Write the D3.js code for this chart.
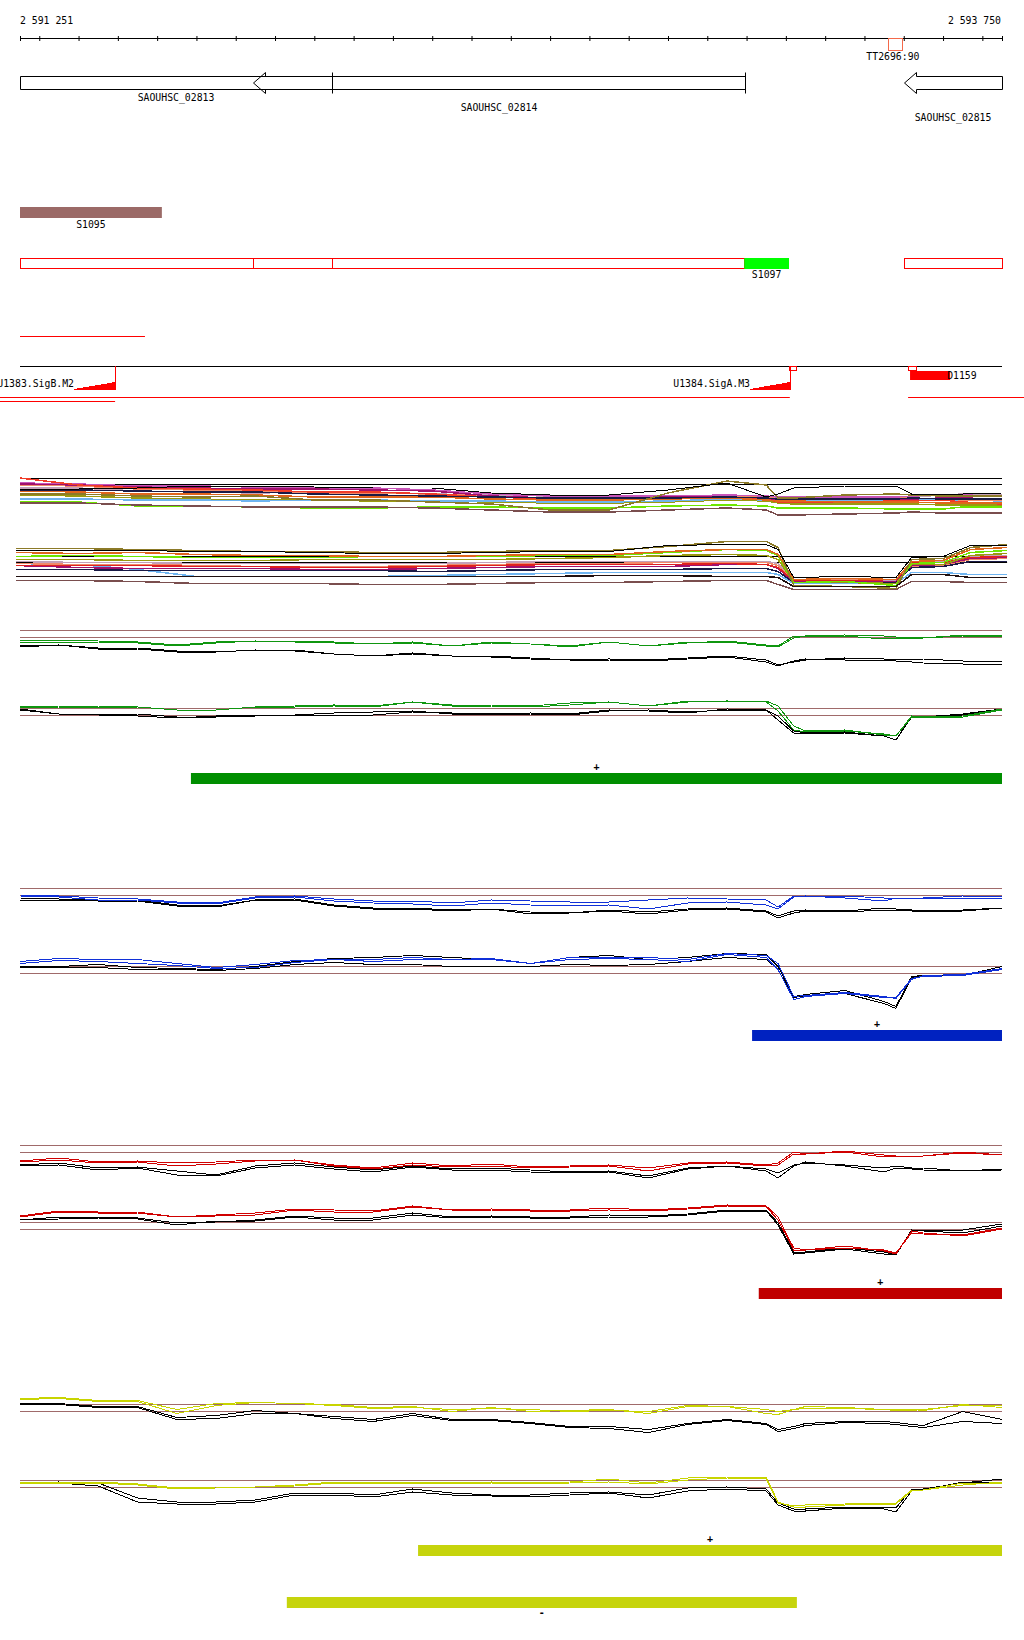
<!DOCTYPE html>
<html>
<head>
<meta charset="utf-8">
<script src="https://cdn.jsdelivr.net/npm/d3@7"></script>
<style>
body { margin: 0; background: #fff; }
svg text { font-family: "DejaVu Sans Mono", monospace; font-size: 9.8px; fill: #000; }
</style>
</head>
<body>
<div id="chart"></div>
<script>
// genomic window
const viewStart = 2591251, viewEnd = 2593750;

// annotation tracks
const genes = [
	{name: "SAOUHSC_02813", start: 2590950, end: 2592045, strand: "-"},
	{name: "SAOUHSC_02814", start: 2591844, end: 2593096, strand: "-"},
	{name: "SAOUHSC_02815", start: 2593501, end: 2594100, strand: "-"}
];
const terminators = [{name: "TT2696:90", start: 2593460, end: 2593495}];
const sFeature = {name: "S1095", start: 2591100, end: 2591612};
const tuSegments = [[2591251, 2591844], [2591844, 2592045], [2592045, 2593094], [2593501, 2593750]];
const s1097 = {name: "S1097", start: 2593094, end: 2593208};
const shortTu = [2591251, 2591569];
const promoters = [
	{name: "U1383.SigB.M2", start: 2591388, end: 2591493, box: null},
	{name: "U1384.SigA.M3", start: 2593109, end: 2593210, box: [2593207, 2593226]}
];
const dFeature = {name: "D1159", start: 2593516, end: 2593618, box: [2593511, 2593532]};
const promLines1 = [[2591200, 2593210], [2593511, 2593806]];
const promLines2 = [[2591200, 2591493]];

// positions of the expression profiles
const posFine = [2591251,2591350,2591450,2591550,2591650,2591750,2591850,2591950,2592050,2592150,2592250,2592350,2592450,2592550,2592650,2592750,2592850,2592950,2593050,2593150,2593180,2593220,2593250,2593350,2593450,2593480,2593520,2593550,2593650,2593750];
const posCoarse = [2591251,2591400,2591550,2591700,2591850,2592000,2592150,2592300,2592450,2592600,2592750,2592900,2593050,2593150,2593180,2593220,2593350,2593480,2593520,2593600,2593650,2593750];
const posCoarse2 = [2591241,2591400,2591550,2591700,2591850,2592000,2592150,2592300,2592450,2592600,2592750,2592900,2593050,2593150,2593180,2593220,2593350,2593480,2593520,2593600,2593670,2593763];

// all-conditions profiles, upper group
const m1Black = [89,89,90,92,92,91,90,90,85,83,83,88,95,81,84,90,92,92,84,84,84,85];
const m1Olive = [84,84,82,81,82,78,78,76,74,68,68,85,97,93,80,80,83,84,83,82,82,82];
const m1Orange = [87,86,84,84,83,81,81,81,79,78,78,79,80,78,77,77,76,76,76,75,75,75];
const m1Red = [100,93,90,89,88,86,86,84,81,79,79,80,81,79,76,76,76,77,77,78,76,74];
const m1Purple = [94,93,91,90,89,89,88,87,82,80,80,81,81,80,78,78,79,79,79,80,80,79];
const m1Pink = [95,94,92,92,91,90,90,88,84,82,82,82,83,82,81,81,81,81,82,83,83,82];
const m1GreyPink = [90,90,87,86,85,86,85,84,83,82,81,82,82,81,80,80,81,81,81,83,84,83];
const m1LightGreen = [76,76,72,72,71,70,70,71,71,70,70,72,73,72,70,70,70,69,69,69,71,71];
const m1OliveGreen = [83,82,80,79,78,78,77,77,76,75,75,76,78,77,75,74,74,74,74,73,73,73];
const m1LightBlue = [79,79,78,78,77,78,78,77,77,76,76,77,79,78,77,77,78,78,78,78,78,77];
const m1BrownGrey = [75,75,73,72,71,71,71,70,68,66,66,68,70,68,63,63,64,65,66,65,65,65];
const m1Navy = [88,88,87,86,86,84,83,82,81,80,80,80,81,80,79,79,79,79,80,79,79,79];
const m1Salmon = [93,92,89,88,87,85,85,84,82,80,80,81,81,81,79,79,79,80,80,79,78,78];

// all-conditions profiles, lower group
const m2Olive = [107,107,106,105,104,104,103,103,104,105,105,109,114,114,108,70,69,67,96,97,108,111];
const m2Black = [105,105,105,104,104,103,102,102,103,104,104,110,111,111,106,78,79,78,98,99,110,110];
const m2Orange = [103,102,103,101,100,100,99,99,100,101,101,104,106,106,101,76,77,76,94,95,106,108];
const m2LightGreen = [99,100,99,98,98,98,99,99,99,100,100,103,106,105,100,73,74,70,92,93,103,105];
const m2OliveGreen = [96,96,95,95,95,96,96,96,96,97,98,100,101,100,96,73,73,72,91,91,100,102];
const m2Red = [90,90,90,89,89,88,88,89,90,91,91,91,92,91,88,75,75,76,93,93,98,99];
const m2Purple = [90,88,87,87,87,86,86,87,88,89,89,89,91,91,87,74,74,74,90,91,97,98];
const m2Salmon = [92,91,91,90,89,89,89,90,91,92,92,93,93,93,90,75,76,76,89,90,96,97];
const m2GreyPink = [94,93,93,92,92,92,92,92,93,94,94,94,94,94,92,76,76,75,94,94,99,100];
const m2LightBlue = [90,91,86,79,79,79,79,80,81,82,83,83,83,83,81,72,72,72,83,83,81,81];
const m2BlackBottom = [79,79,79,79,79,79,79,79,79,79,80,80,79,79,78,69,69,69,81,81,78,78];
const m2BrownGrey = [75,75,74,72,72,72,71,71,72,73,73,74,75,75,71,66,66,66,74,74,73,73];
const m2Navy = [86,86,85,85,85,85,85,84,85,86,86,86,87,87,84,73,73,73,88,89,94,94];
const multiThresholds1 = [100, 94];
const multiThresholds2 = [100, 93.5];

// condition panels
const greenUpG1 = [90,90,89,88,85,88,89,89,88,86,88,84,87,86,83,88,84,87,89,85,84,94,94,95,94,93,93,92,95,95];
const greenUpG2 = [88,88,88,87,84,87,89,88,87,86,87,84,88,86,84,88,84,88,88,84,83,92,94,94,91,92,92,92,94,94];
const greenUpK1 = [84,85,82,82,79,78,80,80,76,74,76,74,74,72,70,71,70,72,74,70,65,68,70,72,71,71,71,71,69,69];
const greenUpK2 = [83,85,81,81,78,78,80,79,76,74,77,74,73,71,70,70,69,71,73,68,64,69,71,70,70,69,68,67,66,65];
const greenLoG1 = [101,102,102,101,98,98,101,102,103,102,106,103,103,102,105,106,102,107,107,107,102,82,77,78,73,72,92,91,92,99];
const greenLoG2 = [100,101,101,101,98,98,101,101,102,101,106,102,102,101,103,106,102,106,107,106,97,78,76,77,74,72,91,91,91,98];
const greenLoK1 = [99,94,94,94,91,91,92,93,93,93,96,95,94,94,93,97,98,96,98,98,92,77,75,76,72,68,92,91,93,99];
const greenLoK2 = [98,94,93,92,90,92,93,93,95,96,97,94,94,95,94,98,97,95,99,98,88,75,74,75,72,68,91,91,94,99];

const blueUpB1 = [93,92,90,89,86,85,91,92,89,87,87,85,88,87,86,86,88,90,89,88,81,92,92,92,90,89,90,90,92,91];
const blueUpB2 = [92,91,88,88,85,84,90,91,87,85,84,82,85,83,82,83,79,85,86,83,79,91,92,90,87,90,90,90,90,89];
const blueUpK1 = [90,89,88,88,83,82,88,89,83,80,80,78,79,76,75,78,76,79,80,77,72,77,78,77,80,79,78,78,78,80];
const blueUpK2 = [88,88,87,87,82,81,88,88,82,79,79,77,79,74,75,77,74,78,79,76,70,75,77,76,78,78,77,76,77,80];
const blueLoB1 = [104,107,106,106,102,98,101,105,106,106,108,106,107,102,108,108,108,106,112,110,102,69,70,73,69,67,86,90,91,97];
const blueLoB2 = [102,105,104,102,100,97,98,103,106,104,106,106,106,102,106,107,106,104,111,108,96,66,69,72,68,68,87,89,90,96];
const blueLoK1 = [99,99,101,98,97,96,99,104,107,108,110,108,106,102,108,110,106,108,112,111,99,69,71,75,64,59,89,90,90,99];
const blueLoK2 = [98,98,98,96,96,95,97,101,103,101,101,99,99,99,101,100,101,104,108,106,96,68,70,72,62,57,88,90,90,99];

const redUpR1 = [84,87,83,84,82,83,85,85,80,77,82,79,81,78,79,80,77,82,83,80,82,93,91,94,90,89,89,89,93,90];
const redUpR2 = [83,85,82,83,79,81,84,85,79,76,80,78,79,77,78,79,74,81,82,79,80,91,91,93,88,89,89,89,92,90];
const redUpK1 = [80,82,77,78,74,70,79,82,78,75,79,76,77,75,73,74,69,77,79,76,72,80,82,80,77,79,77,77,74,76];
const redUpK2 = [79,80,75,77,70,69,77,80,76,73,78,75,75,73,72,73,67,76,79,74,67,79,83,79,73,77,76,75,74,75];
const redLoR1 = [105,110,109,109,105,106,107,112,110,110,115,112,112,111,111,112,111,113,116,115,102,72,72,74,72,69,89,88,87,94];
const redLoR2 = [106,111,110,110,105,107,109,113,112,111,116,112,113,112,112,114,112,114,117,116,105,74,72,76,71,68,91,89,86,93];
const redLoK1 = [102,105,105,104,99,100,102,106,104,104,109,105,106,105,105,107,106,108,112,112,99,70,70,74,70,67,92,92,92,98];
const redLoK2 = [102,103,104,103,97,101,101,105,102,102,107,104,105,104,104,105,105,107,111,111,97,68,69,73,68,67,92,91,89,96];

const yellowUpY1 = [105,106,103,103,94,100,101,100,99,96,97,92,96,92,93,94,90,97,97,90,89,94,95,95,94,94,94,93,99,96];
const yellowUpY2 = [104,105,102,102,90,98,101,100,98,95,96,94,95,94,92,93,92,98,97,94,92,94,97,96,94,93,93,94,98,98];
const yellowUpK1 = [100,100,97,97,86,88,93,90,87,84,90,84,84,81,77,77,74,80,84,80,74,77,80,82,82,81,79,78,92,84];
const yellowUpK2 = [99,99,96,96,84,85,90,90,85,82,88,83,83,80,76,75,71,79,83,79,72,75,78,81,80,79,77,76,82,80];
const yellowLoY1 = [98,98,98,96,92,93,93,95,98,98,98,97,98,97,98,101,97,102,103,103,78,73,73,75,76,76,89,90,95,98];
const yellowLoY2 = [97,97,97,95,91,92,93,94,97,97,97,96,97,96,97,98,96,100,102,101,77,74,75,76,77,77,90,90,97,97];
const yellowLoK1 = [97,98,97,82,78,78,80,87,87,85,91,87,85,85,87,88,85,92,93,91,77,71,71,73,73,72,91,91,97,101];
const yellowLoK2 = [96,97,94,78,76,76,78,85,85,83,88,85,84,83,85,87,82,89,91,89,75,69,69,72,71,68,89,90,98,97];
const panelThresholds = [100, 93];

// segments found per condition
const sigBars = [
	{panel: 0, start: 2591686, end: 2593750, strand: "+"},
	{panel: 1, start: 2593114, end: 2593750, strand: "+"},
	{panel: 2, start: 2593131, end: 2593750, strand: "+"},
	{panel: 3, start: 2592264, end: 2593750, strand: "+"},
	{panel: 3, start: 2591930, end: 2593228, strand: "-"}
];

var x = d3.scaleLinear().domain([viewStart, viewEnd]).range([20, 1002]);
var fmt = d3.formatLocale({decimal: ".", thousands: " ", grouping: [3], currency: ["", ""]}).format(",d");

var svg = d3.select("#chart").append("svg")
	.attr("width", 1024)
	.attr("height", 1640);

// coordinate ruler
svg.append("g")
	.attr("transform", "translate(0,36)")
	.call(d3.axisBottom(x)
		.tickValues([viewStart].concat(d3.range(2591300, viewEnd, 100), [viewEnd]))
		.tickSize(5)
		.tickFormat(""))
	.call(g => g.select(".domain").remove())
	.call(g => g.selectAll("line").attr("stroke", "#000"));
svg.append("line")
	.attr("x1", x(viewStart)).attr("x2", x(viewEnd))
	.attr("y1", 38.5).attr("y2", 38.5)
	.attr("stroke", "#000");
svg.append("text").attr("x", x(viewStart)).attr("y", 24).text(fmt(viewStart));
svg.append("text").attr("x", x(viewEnd) - 1).attr("y", 24).attr("text-anchor", "end").text(fmt(viewEnd));

terminators.forEach(function (t) {
	svg.append("rect")
		.attr("x", Math.round(x(t.start)) + 0.5).attr("y", 38.5)
		.attr("width", Math.round(x(t.end) - x(t.start))).attr("height", 12)
		.attr("fill", "none").attr("stroke", "#f4694a");
	svg.append("text")
		.attr("x", (x(t.start) + x(t.end)) / 2 - 2).attr("y", 60)
		.attr("text-anchor", "middle").text(t.name);
});

// genes
genes.forEach(function (g, i) {
	var s = Math.max(g.start, viewStart), e = Math.min(g.end, viewEnd);
	var x0 = Math.round(x(s)) + 0.5, x1 = Math.round(x(e)) + 0.5;
	var y0 = 76.5, y1 = 89.5, ym = (y0 + y1) / 2, head = 12;
	var d;
	if (g.strand === "-" && g.start >= viewStart) {
		d = `M${x0},${ym}L${x0 + head},${y0 - 4}L${x0 + head},${y0}L${x1},${y0}L${x1},${y1}L${x0 + head},${y1}L${x0 + head},${y1 + 4}Z`;
	}
	else {
		d = `M${x0},${y0}L${x1},${y0}L${x1},${y1}L${x0},${y1}Z`;
	}
	svg.append("path").attr("d", d).attr("fill", "none").attr("stroke", "#000");
	if (g.end <= viewEnd) {
		svg.append("line").attr("x1", x1).attr("x2", x1).attr("y1", y0 - 4).attr("y2", y1 + 4).attr("stroke", "#000");
	}
	svg.append("text")
		.attr("x", (x(s) + x(e)) / 2).attr("y", 101 + i * 10)
		.attr("text-anchor", "middle").text(g.name);
});

// S1095
svg.append("rect")
	.attr("x", x(Math.max(sFeature.start, viewStart))).attr("y", 207)
	.attr("width", x(sFeature.end) - x(Math.max(sFeature.start, viewStart))).attr("height", 11)
	.attr("fill", "#9b6a67");
svg.append("text")
	.attr("x", (x(Math.max(sFeature.start, viewStart)) + x(sFeature.end)) / 2).attr("y", 228)
	.attr("text-anchor", "middle").text(sFeature.name);

// transcription units
svg.selectAll(".tu").data(tuSegments).enter().append("rect")
	.attr("class", "tu")
	.attr("x", d => Math.round(x(d[0])) + 0.5).attr("y", 258.5)
	.attr("width", d => Math.round(x(d[1]) - x(d[0]))).attr("height", 10)
	.attr("fill", "none").attr("stroke", "#ff0000");
svg.append("rect")
	.attr("x", x(s1097.start)).attr("y", 258)
	.attr("width", x(s1097.end) - x(s1097.start)).attr("height", 11)
	.attr("fill", "#00ff00");
svg.append("text")
	.attr("x", (x(s1097.start) + x(s1097.end)) / 2).attr("y", 278)
	.attr("text-anchor", "middle").text(s1097.name);
svg.append("line")
	.attr("x1", x(shortTu[0])).attr("x2", x(shortTu[1]))
	.attr("y1", 336.5).attr("y2", 336.5).attr("stroke", "#ff0000");

// promoters track
svg.append("line")
	.attr("x1", x(viewStart)).attr("x2", x(viewEnd))
	.attr("y1", 366.5).attr("y2", 366.5).attr("stroke", "#000");
promoters.forEach(function (p) {
	var x0 = Math.round(x(p.start)), x1 = Math.round(x(p.end)) + 0.5;
	svg.append("path")
		.attr("d", `M${x0},389.5L${x1},389.5L${x1},382.5Z`)
		.attr("fill", "#ff0000").attr("stroke", "#ff0000")
		.attr("shape-rendering", "crispEdges");
	svg.append("line").attr("x1", x1).attr("x2", x1).attr("y1", 366).attr("y2", 389.5).attr("stroke", "#ff0000");
	if (p.box) {
		svg.append("rect")
			.attr("x", Math.round(x(p.box[0])) + 0.5).attr("y", 366.5)
			.attr("width", Math.round(x(p.box[1]) - x(p.box[0]))).attr("height", 4)
			.attr("fill", "none").attr("stroke", "#ff0000");
	}
	svg.append("text").attr("x", x0).attr("y", 387).attr("text-anchor", "end").text(p.name);
});
svg.append("rect")
	.attr("x", x(dFeature.start)).attr("y", 371)
	.attr("width", x(dFeature.end) - x(dFeature.start)).attr("height", 9)
	.attr("fill", "#ff0000");
svg.append("rect")
	.attr("x", Math.round(x(dFeature.box[0])) + 0.5).attr("y", 366.5)
	.attr("width", Math.round(x(dFeature.box[1]) - x(dFeature.box[0]))).attr("height", 4)
	.attr("fill", "none").attr("stroke", "#ff0000");
svg.append("text").attr("x", x(dFeature.end) - 3).attr("y", 379).text(dFeature.name);
svg.selectAll(".pl1").data(promLines1).enter().append("line")
	.attr("x1", d => x(d[0])).attr("x2", d => x(d[1]))
	.attr("y1", 397.5).attr("y2", 397.5).attr("stroke", "#ff0000");
svg.selectAll(".pl2").data(promLines2).enter().append("line")
	.attr("x1", d => x(d[0])).attr("x2", d => x(d[1]))
	.attr("y1", 401.5).attr("y2", 401.5).attr("stroke", "#ff0000");

function drawTrack(top, positions, series, thresholds, thrColor, width) {
	var y = d3.scaleLinear().domain([100, 0]).range([top, top + 100]);
	var g = svg.append("g");
	g.selectAll("line").data(thresholds).enter().append("line")
		.attr("x1", x(positions[0])).attr("x2", x(positions[positions.length - 1]))
		.attr("y1", d => Math.round(y(d)) + 0.5).attr("y2", d => Math.round(y(d)) + 0.5)
		.attr("stroke", thrColor);
	var ln = d3.line().x(d => x(d[0])).y(d => y(d[1]));
	g.selectAll("path").data(series).enter().append("path")
		.attr("d", s => ln(s.values.map((v, i) => [positions[i], v])))
		.attr("fill", "none")
		.attr("stroke", s => s.color)
		.attr("stroke-width", s => s.color === "#000000" ? 1 : width)
		.attr("shape-rendering", "crispEdges");
}

// all conditions
drawTrack(478, posCoarse, [
	{values: m1LightGreen, color: "#6ee600"},
	{values: m1OliveGreen, color: "#9a9a10"},
	{values: m1LightBlue, color: "#6eb4f0"},
	{values: m1BrownGrey, color: "#7a4e4e"},
	{values: m1GreyPink, color: "#c4a0b8"},
	{values: m1Salmon, color: "#f08a6a"},
	{values: m1Pink, color: "#c855b8"},
	{values: m1Purple, color: "#a0106e"},
	{values: m1Red, color: "#f03c28"},
	{values: m1Orange, color: "#e0661c"},
	{values: m1Navy, color: "#1a1a46"},
	{values: m1Olive, color: "#8c7a28"},
	{values: m1Black, color: "#000000"}
], multiThresholds1, "#000", 1.5);
drawTrack(555.5, posCoarse2, [
	{values: m2BrownGrey, color: "#7a4e4e"},
	{values: m2LightBlue, color: "#6eb4f0"},
	{values: m2GreyPink, color: "#c4a0b8"},
	{values: m2Salmon, color: "#f08a6a"},
	{values: m2Purple, color: "#a0106e"},
	{values: m2Red, color: "#e02020"},
	{values: m2Navy, color: "#1a1a46"},
	{values: m2OliveGreen, color: "#9a9a10"},
	{values: m2LightGreen, color: "#6ee600"},
	{values: m2Orange, color: "#e0661c"},
	{values: m2Olive, color: "#8c7a28"},
	{values: m2BlackBottom, color: "#201010"},
	{values: m2Black, color: "#000000"}
], multiThresholds2, "#000", 1.5);

var panels = [
	{color: "#0f960f", barColor: "#008e00", up: 630, lo: 708, barY: 773,
		upLines: [greenUpK1, greenUpK2, greenUpG2, greenUpG1], loLines: [greenLoK1, greenLoK2, greenLoG2, greenLoG1]},
	{color: "#1030d8", barColor: "#0022c0", up: 888, lo: 965.5, barY: 1030,
		upLines: [blueUpK1, blueUpK2, blueUpB2, blueUpB1], loLines: [blueLoK1, blueLoK2, blueLoB2, blueLoB1]},
	{color: "#d00000", barColor: "#c00000", up: 1145, lo: 1222, barY: 1288,
		upLines: [redUpK1, redUpK2, redUpR2, redUpR1], loLines: [redLoK1, redLoK2, redLoR2, redLoR1]},
	{color: "#c8d400", barColor: "#c6d40c", up: 1403.5, lo: 1480, barY: 1545,
		upLines: [yellowUpK1, yellowUpK2, yellowUpY2, yellowUpY1], loLines: [yellowLoK1, yellowLoK2, yellowLoY2, yellowLoY1]}
];

panels.forEach(function (p) {
	var toSeries = (arr) => arr.map((v, i) => ({values: v, color: i < 2 ? "#000000" : p.color}));
	drawTrack(p.up, posFine, toSeries(p.upLines), panelThresholds, "#a06a6a", 1);
	drawTrack(p.lo, posFine, toSeries(p.loLines), panelThresholds, "#a06a6a", 1);
});

sigBars.forEach(function (b) {
	var p = panels[b.panel];
	var top = b.strand === "+" ? p.barY : p.barY + 52;
	svg.append("rect")
		.attr("x", x(b.start)).attr("y", top)
		.attr("width", x(b.end) - x(b.start)).attr("height", 11)
		.attr("fill", p.barColor);
	svg.append("text")
		.attr("x", (x(b.start) + x(b.end)) / 2)
		.attr("y", b.strand === "+" ? top - 3 : top + 19)
		.attr("text-anchor", "middle")
		.style("font-size", "10px")
		.style("font-weight", "bold")
		.text(b.strand);
});
</script>
</body>
</html>
